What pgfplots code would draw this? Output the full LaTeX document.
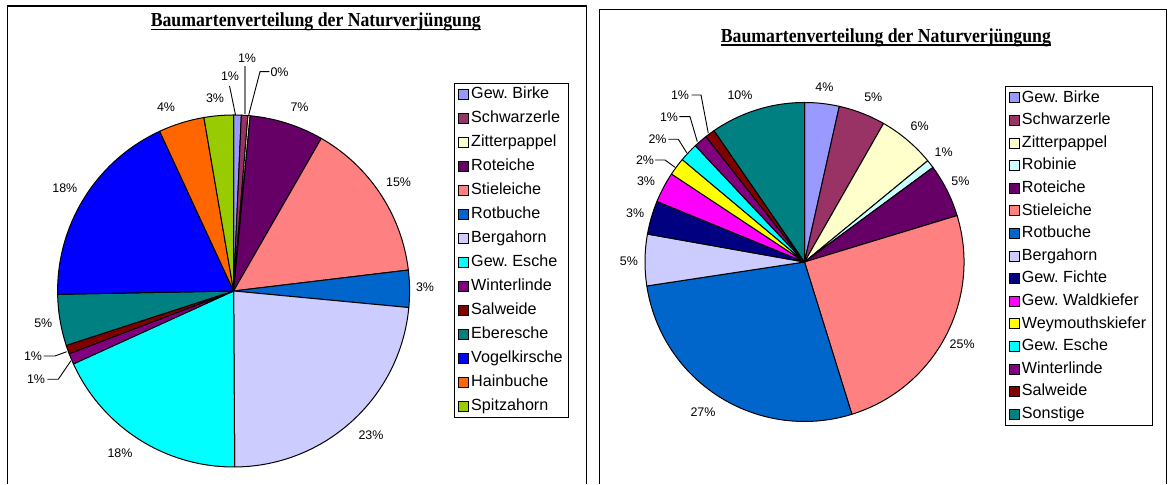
\documentclass[border=0pt]{standalone}
\usepackage{fontspec}
\setmainfont{Liberation Serif}
\newfontfamily\arial{Liberation Sans}
\usepackage{pgfplots}
\usepackage{pgfplotstable}
\pgfplotsset{compat=1.18}
\frenchspacing

\definecolor{cBirke}{HTML}{9999FF}
\definecolor{cSchwarz}{HTML}{993366}
\definecolor{cZitter}{HTML}{FFFFCC}
\definecolor{cRobinie}{HTML}{CCFFFF}
\definecolor{cRoteiche}{HTML}{660066}
\definecolor{cStiel}{HTML}{FF8080}
\definecolor{cRotbuche}{HTML}{0066CC}
\definecolor{cBerg}{HTML}{CCCCFF}
\definecolor{cFichte}{HTML}{000080}
\definecolor{cWald}{HTML}{FF00FF}
\definecolor{cWey}{HTML}{FFFF00}
\definecolor{cEsche}{HTML}{00FFFF}
\definecolor{cWinter}{HTML}{800080}
\definecolor{cSal}{HTML}{800000}
\definecolor{cTeal}{HTML}{008080}
\definecolor{cVogel}{HTML}{0000FF}
\definecolor{cHain}{HTML}{FF6600}
\definecolor{cSpitz}{HTML}{99CC00}

% left chart: share in percent, colour
\pgfplotstableread{
v    c
0.7  cBirke
0.6  cSchwarz
0.2  cZitter
6.8  cRoteiche
14.8 cStiel
3.4  cRotbuche
23.4 cBerg
18.3 cEsche
1.0  cWinter
0.8  cSal
4.7  cTeal
18.4 cVogel
4.2  cHain
2.7  cSpitz
}\leftdata

% right chart
\pgfplotstableread{
v    c
3.5  cBirke
4.75 cSchwarz
5.8  cZitter
0.85 cRobinie
5.4  cRoteiche
24.9 cStiel
27.4 cRotbuche
5.2  cBerg
3.4  cFichte
3.1  cWald
1.8  cWey
1.9  cEsche
1.4  cWinter
1.0  cSal
9.6  cTeal
}\rightdata

\newcommand\legfont{\arial\fontsize{16.2}{18}\selectfont}
\newcommand\labfont{\arial\fontsize{12.5}{14}\selectfont}
\newcommand\titfont{\fontsize{17.8}{20}\selectfont\bfseries}

% draw pie from table #1 with radius #2 (bp), rows #3
\newcommand\drawpie[3]{%
  \def\cum{0}%
  \pgfplotsforeachungrouped \i in {0,...,#3}{%
    \pgfplotstablegetelem{\i}{v}\of#1\let\val\pgfplotsretval
    \pgfplotstablegetelem{\i}{c}\of#1\let\col\pgfplotsretval
    \pgfmathsetmacro\aa{90-3.6*\cum}%
    \pgfmathsetmacro\bb{90-3.6*(\cum+\val)}%
    \edef\tmp{\noexpand\draw[fill=\col, draw=black, line width=1bp, line join=round]
      (axis cs:0,0) -- ++(\aa:#2bp) arc[start angle=\aa, end angle=\bb, radius=#2bp] -- cycle;}%
    \tmp
    \pgfmathsetmacro\cum{\cum+\val}%
  }%
}

\pgfplotsset{
  piestyle/.style={
    scale only axis, anchor=origin,
    xmin=-1, xmax=1, ymin=-1, ymax=1,
    hide axis, clip=false,
    legend cell align=left,
    legend image code/.code={\draw[##1, draw=black, line width=0.7bp] (0bp,-5bp) rectangle (10bp,5bp);},
    legend style={anchor=north west, draw=black, line width=1bp, font=\legfont,
      inner xsep=4bp, inner ysep=4bp,
      nodes={inner xsep=2bp, inner ysep=0bp, text height=11.5bp, text depth=3bp}},
  }
}

\begin{document}
\begin{tikzpicture}[x=1bp,y=1bp]
\path (0,0) rectangle (1170,484);
\draw[line width=1.3bp] (7.5,0) -- (7.5,478) -- (586.5,478) -- (586.5,0);
\draw[line width=1.3bp] (599.3,0) -- (599.3,474.7) -- (1166.5,474.7) -- (1166.5,0);

\begin{axis}[piestyle, at={(233.6bp,193bp)}, width=352bp, height=352bp,
  legend style={at={(1.1261,1.0909)}, row sep=9.5bp}]
  \drawpie{\leftdata}{176}{13}
  \addlegendimage{fill=cBirke}\addlegendentry{Gew. Birke}
  \addlegendimage{fill=cSchwarz}\addlegendentry{Schwarzerle}
  \addlegendimage{fill=cZitter}\addlegendentry{Zitterpappel}
  \addlegendimage{fill=cRoteiche}\addlegendentry{Roteiche}
  \addlegendimage{fill=cStiel}\addlegendentry{Stieleiche}
  \addlegendimage{fill=cRotbuche}\addlegendentry{Rotbuche}
  \addlegendimage{fill=cBerg}\addlegendentry{Bergahorn}
  \addlegendimage{fill=cEsche}\addlegendentry{Gew. Esche}
  \addlegendimage{fill=cWinter}\addlegendentry{Winterlinde}
  \addlegendimage{fill=cSal}\addlegendentry{Salweide}
  \addlegendimage{fill=cTeal}\addlegendentry{Eberesche}
  \addlegendimage{fill=cVogel}\addlegendentry{Vogelkirsche}
  \addlegendimage{fill=cHain}\addlegendentry{Hainbuche}
  \addlegendimage{fill=cSpitz}\addlegendentry{Spitzahorn}
\end{axis}

\begin{axis}[piestyle, at={(804.5bp,222bp)}, width=319bp, height=319bp,
  legend style={at={(1.1276,1.0517)}, row sep=8.1bp}]
  \drawpie{\rightdata}{159.5}{14}
  \addlegendimage{fill=cBirke}\addlegendentry{Gew. Birke}
  \addlegendimage{fill=cSchwarz}\addlegendentry{Schwarzerle}
  \addlegendimage{fill=cZitter}\addlegendentry{Zitterpappel}
  \addlegendimage{fill=cRobinie}\addlegendentry{Robinie}
  \addlegendimage{fill=cRoteiche}\addlegendentry{Roteiche}
  \addlegendimage{fill=cStiel}\addlegendentry{Stieleiche}
  \addlegendimage{fill=cRotbuche}\addlegendentry{Rotbuche}
  \addlegendimage{fill=cBerg}\addlegendentry{Bergahorn}
  \addlegendimage{fill=cFichte}\addlegendentry{Gew. Fichte}
  \addlegendimage{fill=cWald}\addlegendentry{Gew. Waldkiefer}
  \addlegendimage{fill=cWey}\addlegendentry{Weymouthskiefer}
  \addlegendimage{fill=cEsche}\addlegendentry{Gew. Esche}
  \addlegendimage{fill=cWinter}\addlegendentry{Winterlinde}
  \addlegendimage{fill=cSal}\addlegendentry{Salweide}
  \addlegendimage{fill=cTeal}\addlegendentry{Sonstige}
\end{axis}

\begin{scope}[x=1bp, y=-1bp, yshift=484bp]
  % titles
  \node[anchor=base, inner sep=0pt, font=\titfont] (t1) at (315.8,26.7) {\scalebox{1}[1.12]{Baumartenverteilung der Naturverjüngung}};
  \draw[line width=1.3bp] ([yshift=-2.6bp]t1.base west) -- ([yshift=-2.6bp]t1.base east);
  \node[anchor=base, inner sep=0pt, font=\titfont] (t2) at (885.9,42.3) {\scalebox{1}[1.12]{Baumartenverteilung der Naturverjüngung}};
  \draw[line width=1.3bp] ([yshift=-2.6bp]t2.base west) -- ([yshift=-2.6bp]t2.base east);

  \begin{scope}[every node/.style={font=\labfont, inner sep=0pt}]
    % left labels
    \node at (230,76) {1\%};
    \node at (247,58) {1\%};
    \node at (279.5,72) {0\%};
    \node at (215,98) {3\%};
    \node at (166,107) {4\%};
    \node at (299.5,107) {7\%};
    \node at (398.6,182) {15\%};
    \node at (425,287) {3\%};
    \node at (371,435) {23\%};
    \node at (120,453) {18\%};
    \node at (36,379) {1\%};
    \node at (33,356) {1\%};
    \node at (43.3,323) {5\%};
    \node at (64.8,188) {18\%};
    % right labels
    \node at (824.4,87.7) {4\%};
    \node at (873.3,97.7) {5\%};
    \node at (919.6,126) {6\%};
    \node at (943.7,152.7) {1\%};
    \node at (960.4,181.7) {5\%};
    \node at (962.2,344) {25\%};
    \node at (703,412.3) {27\%};
    \node at (628.9,261.7) {5\%};
    \node at (635.2,213.3) {3\%};
    \node at (646,181.7) {3\%};
    \node at (645,160) {2\%};
    \node at (657.5,139) {2\%};
    \node at (669,117) {1\%};
    \node at (680,95.5) {1\%};
    \node at (740,95) {10\%};
  \end{scope}
  % leader lines
  \draw[line width=0.9bp] (229.5,86) -- (231,93) -- (235.5,115);
  \draw[line width=1.3bp, gray] (245,66) -- (245,114);
  \draw[line width=0.9bp] (269.4,71.7) -- (260,71.7) -- (248.7,115);
  \draw[line width=0.9bp] (43.5,356) -- (55,356) -- (66.7,351.7);
  \draw[line width=0.9bp] (47.3,379.3) -- (58.3,379.3) -- (71,360.7);
  \draw[line width=0.9bp] (655,160) -- (665,160) -- (675,167.3);
  \draw[line width=0.9bp] (668.3,139.3) -- (678.3,139.3) -- (686.7,152.7);
  \draw[line width=0.9bp] (679.3,116.7) -- (690,116.7) -- (697.3,141.7);
  \draw[line width=0.9bp] (691.7,95) -- (701,95) -- (708.3,133.3);
\end{scope}
\end{tikzpicture}
\end{document}
